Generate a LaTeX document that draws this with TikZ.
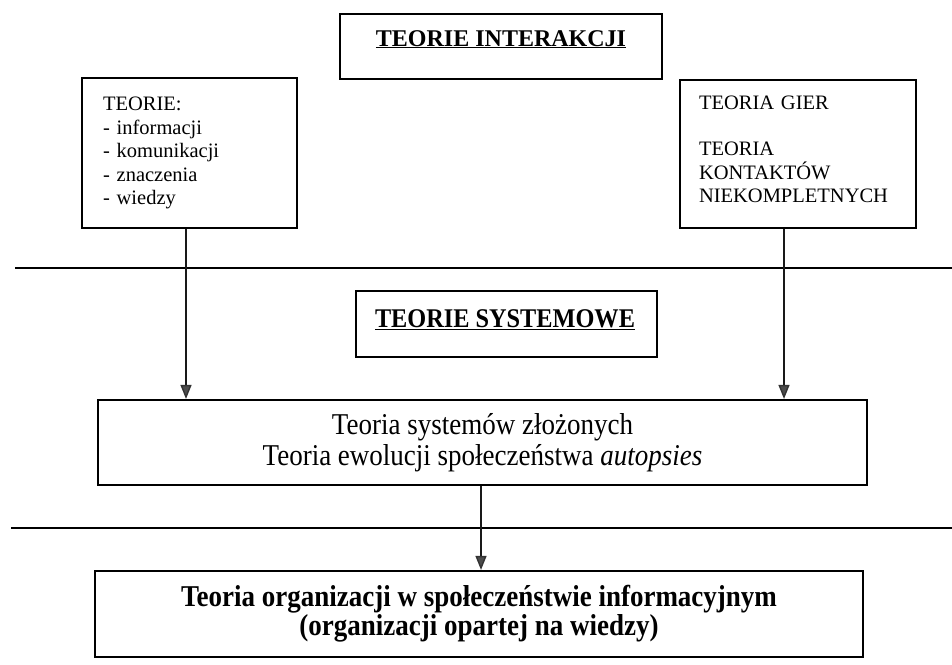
\documentclass[tikz,border=0pt]{standalone}
\usepackage{fontspec}
\setmainfont{Liberation Serif}
\usetikzlibrary{arrows.meta}
\newcommand{\tallline}[1]{\scalebox{1}[1.12]{#1}}
\begin{document}
\begin{tikzpicture}[x=1pt,y=-1pt,
  box/.style={draw=black, line width=2.2pt, inner sep=0pt},
  conn/.style={line width=1.4pt, draw=black!90, -{Triangle[length=14pt,width=11pt,fill=black!70,color=black!80]}},
  sepline/.style={line width=2.8pt},
  smalltxt/.style={font=\fontsize{20.5}{23.5}\selectfont},
  headtxt/.style={anchor=base, font=\bfseries\fontsize{24}{28}\selectfont},
  midtxt/.style={align=center, font=\fontsize{27}{31}\selectfont},
  bottxt/.style={align=center, font=\bfseries\fontsize{27}{27}\selectfont}]
\useasboundingbox (0,0) rectangle (952,664);
\fill[white] (0,0) rectangle (952,664);

% top heading
\node[box, minimum width=322pt, minimum height=65pt] (inter) at (501,46.5) {};
\node[headtxt] (intertxt) at (501,46) {\underline{TEORIE INTERAKCJI}};

% left and right boxes
\node[box, smalltxt, minimum width=215pt, minimum height=150pt, text width=173pt,
      inner xsep=21pt, align=left] (lbox) at (189.5,153)
  {TEORIE:\\- informacji\\- komunikacji\\- znaczenia\\- wiedzy};
\node[box, smalltxt, minimum width=236pt, minimum height=148pt, text width=198pt,
      inner xsep=19pt, align=left] (rbox) at (798,154)
  {TEORIA GIER\\[23pt]TEORIA\\KONTAKTÓW\\NIEKOMPLETNYCH\rule[-10pt]{0pt}{10pt}};

% separator 1
\draw[sepline] (15,268) -- (952,268);

% systemic heading
\node[box, minimum width=301pt, minimum height=66pt] (sys) at (506.5,324) {};
\node[anchor=base] (systxt) at (505,327)
  {\scalebox{0.9}[1]{\bfseries\fontsize{27}{30}\selectfont\underline{TEORIE SYSTEMOWE}}};

% middle box
\node[box, midtxt, minimum width=769pt, minimum height=85pt] (mid) at (482.5,442.5)
  {\tallline{Teoria systemów złożonych}\\\tallline{Teoria ewolucji społeczeństwa \textit{autopsies}}};

% separator 2
\draw[sepline] (11,528) -- (952,528);

% bottom box
\node[box, bottxt, minimum width=768pt, minimum height=86pt] (bot) at (479,614)
  {\tallline{Teoria organizacji w społeczeństwie informacyjnym}\\\tallline{(organizacji opartej na wiedzy)}};

% connectors
\draw[conn] ([xshift=-3.5pt]lbox.south) -- ([xshift=-3.5pt]lbox.south |- mid.north);
\draw[conn] ([xshift=-14pt]rbox.south) -- ([xshift=-14pt]rbox.south |- mid.north);
\draw[conn] ([xshift=-1.5pt]mid.south) -- ([xshift=-1.5pt]mid.south |- bot.north);
\end{tikzpicture}
\end{document}
